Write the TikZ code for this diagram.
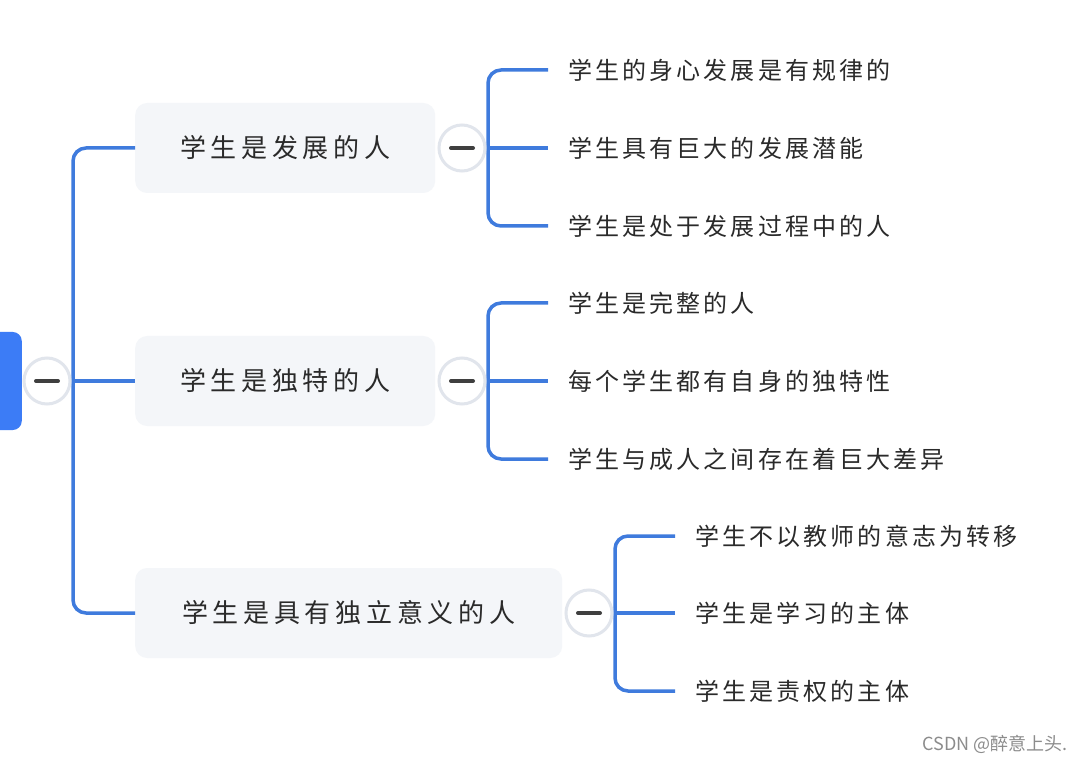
\documentclass[tikz,border=0pt]{standalone}
\usepackage{fontspec}
\newfontfamily\leaffont{Noto Sans CJK SC}[LetterSpace=13]
\newfontfamily\branchfont{Noto Sans CJK SC}[LetterSpace=18]
\newfontfamily\markfont{Noto Sans CJK SC}
\definecolor{linkblue}{HTML}{3F7BDD}
\definecolor{rootblue}{HTML}{3C7CF6}
\definecolor{boxfill}{HTML}{F4F6F9}
\definecolor{ringgray}{HTML}{E1E5EC}
\definecolor{txt}{HTML}{2A2A2A}
\begin{document}
\begin{tikzpicture}[x=1pt,y=-1pt,
  link/.style={draw=linkblue, line width=3.5pt},
  rootbox/.style={rectangle, rounded corners=9pt, fill=rootblue, minimum width=50pt, minimum height=98pt, inner sep=0pt},
  branchbox/.style={rectangle, rounded corners=12pt, fill=boxfill, minimum height=90pt, inner sep=0pt, font=\branchfont\fontsize{26}{30}\selectfont, text=txt},
  leafnode/.style={anchor=west, inner xsep=20pt, inner ysep=0pt, font=\leaffont\fontsize{24}{28}\selectfont, text=txt},
  toggle/.style={circle, draw=ringgray, line width=3pt, fill=white, minimum size=46pt, inner sep=0pt,
    path picture={\draw[line width=4pt, line cap=round, color=txt!90]
      ([xshift=-11pt]path picture bounding box.center) -- ([xshift=11pt]path picture bounding box.center);}},
  wmark/.style={anchor=east, inner sep=0pt, font=\markfont\fontsize{18}{20}\selectfont, text=black!45}
]
\useasboundingbox (0,0) rectangle (1080,762);
\clip (0,0) rectangle (1080,762);
\fill[white] (0,0) rectangle (1080,762);

% root
\node[rootbox, anchor=east] (root) at (22,381) {};

% branch boxes
\node[branchbox, anchor=west, minimum width=300pt] (b1) at (135,148) {学生是发展的人};
\node[branchbox, anchor=west, minimum width=300pt] (b2) at (135,381) {学生是独特的人};
\node[branchbox, anchor=west, minimum width=427pt] (b3) at (135,613) {学生是具有独立意义的人};

% leaves
\node[leafnode] (l11) at (548,70) {学生的身心发展是有规律的};
\node[leafnode] (l12) at (548,148) {学生具有巨大的发展潜能};
\node[leafnode] (l13) at (548,226) {学生是处于发展过程中的人};
\node[leafnode] (l21) at (548,303) {学生是完整的人};
\node[leafnode] (l22) at (548,381) {每个学生都有自身的独特性};
\node[leafnode] (l23) at (548,459) {学生与成人之间存在着巨大差异};
\node[leafnode] (l31) at (675,536) {学生不以教师的意志为转移};
\node[leafnode] (l32) at (675,613) {学生是学习的主体};
\node[leafnode] (l33) at (675,691) {学生是责权的主体};

% junction coordinates
\coordinate (j0) at (73,381);
\coordinate (j1) at (488,148);
\coordinate (j2) at (488,381);
\coordinate (j3) at (615,613);

% connectors
\draw[link, rounded corners=13pt] (b1.west) -| (j0) |- (b3.west);
\draw[link] (j0) -- (b2.west);
\draw[link, rounded corners=13pt] (l11.west) -| (j1) |- (l13.west);
\draw[link] (j1) -- (l12.west);
\draw[link, rounded corners=13pt] (l21.west) -| (j2) |- (l23.west);
\draw[link] (j2) -- (l22.west);
\draw[link, rounded corners=13pt] (l31.west) -| (j3) |- (l33.west);
\draw[link] (j3) -- (l32.west);

% toggles
\node[toggle] (c0) at (47,381) {};
\node[toggle] (c1) at (462,148) {};
\node[toggle] (c2) at (462,381) {};
\node[toggle] (c3) at (589,613) {};

% watermark
\node[wmark] (wm) at (1068,744) {CSDN @醉意上头.};
\end{tikzpicture}
\end{document}
